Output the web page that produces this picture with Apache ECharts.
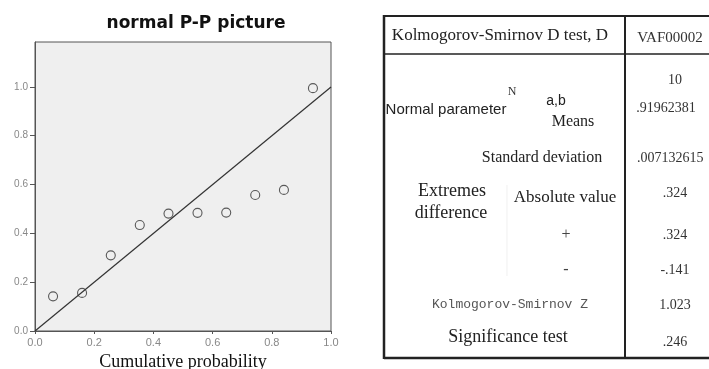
<!DOCTYPE html>
<html>
<head>
<meta charset="utf-8">
<script src="https://cdn.jsdelivr.net/npm/echarts@6/dist/echarts.min.js"></script>
<style>html,body{margin:0;padding:0;background:#fff;}#c{width:709px;height:369px;}</style>
</head>
<body>
<div id="c"></div>
<script>
// ---- data ----
var expectedCum = [0.061, 0.159, 0.256, 0.354, 0.451, 0.549, 0.646, 0.744, 0.841, 0.939];
var observedCum = [0.142, 0.156, 0.310, 0.434, 0.481, 0.484, 0.485, 0.557, 0.578, 0.995];
var refLine = [[0, 0], [1, 1]];
var axisTicks = [0, 0.2, 0.4, 0.6, 0.8, 1.0];
var chartTitle = 'normal P-P picture';
var xAxisName = 'Cumulative probability';

var tableHeader = ['Kolmogorov-Smirnov D test, D', 'VAF00002'];
var tableLabels = ['N', 'a,b', 'Normal parameter', 'Means', 'Standard deviation', 'Extremes', 'difference', 'Absolute value', '+', '-', 'Kolmogorov-Smirnov Z', 'Significance test'];
var tableValues = ['10', '.91962381', '.007132615', '.324', '.324', '-.141', '1.023', '.246'];

// ---- chart ----
var chart = echarts.init(document.getElementById('c'));
var points = expectedCum.map(function (x, i) { return [x, observedCum[i]]; });

var serif = '"Liberation Serif", "DejaVu Serif", serif';
var sans = '"Liberation Sans", Arial, sans-serif';

function txt(x, y, s, opt) {
  opt = opt || {};
  return {
    type: 'text', x: x, y: y, silent: true,
    style: {
      text: s, fill: opt.color || '#222', font: opt.font || ('15px ' + serif),
      textAlign: opt.align || 'center', textVerticalAlign: 'middle'
    }
  };
}
function ln(x1, y1, x2, y2, w, c) {
  return { type: 'line', silent: true, shape: { x1: x1, y1: y1, x2: x2, y2: y2 }, style: { stroke: c || '#222', lineWidth: w || 2 } };
}

var vx = 675;
var vFont = '14px ' + serif;
var vCol = '#333';
var graphics = [
  ln(384, 16, 709, 16, 2),
  ln(384, 54, 709, 54, 1.5),
  ln(384, 358, 709, 358, 2.5),
  ln(384, 15, 384, 359, 2.5),
  ln(625, 15, 625, 359, 2),
  ln(507, 185, 507, 276, 0.6, '#e6e6e6'),
  txt(500, 36, tableHeader[0], { font: '17px ' + serif }),
  txt(670, 38, tableHeader[1], { font: '15px ' + serif, color: '#333' }),
  txt(512, 92, tableLabels[0], { font: '12px ' + serif, color: '#333' }),
  txt(556, 101, tableLabels[1], { font: '14px ' + sans }),
  txt(446, 110, tableLabels[2], { font: '15px ' + sans }),
  txt(573, 122, tableLabels[3], { font: '16px ' + serif }),
  txt(542, 158, tableLabels[4], { font: '16px ' + serif }),
  txt(452, 191, tableLabels[5], { font: '18px ' + serif }),
  txt(451, 213, tableLabels[6], { font: '18px ' + serif }),
  txt(565, 198, tableLabels[7], { font: '17px ' + serif }),
  txt(566, 235, tableLabels[8], { font: '16px ' + serif, color: '#444' }),
  txt(566, 270, tableLabels[9], { font: '16px ' + serif, color: '#444' }),
  txt(510, 305, tableLabels[10], { font: '13px "Liberation Mono", monospace', color: '#555' }),
  txt(508, 337, tableLabels[11], { font: '18px ' + serif }),
  txt(vx, 80, tableValues[0], { font: vFont, color: vCol }),
  txt(666, 108, tableValues[1], { font: vFont, color: vCol }),
  txt(637, 158, tableValues[2], { font: vFont, color: vCol, align: 'left' }),
  txt(vx, 193, tableValues[3], { font: vFont, color: vCol }),
  txt(vx, 235, tableValues[4], { font: vFont, color: vCol }),
  txt(vx, 270, tableValues[5], { font: vFont, color: vCol }),
  txt(vx, 305, tableValues[6], { font: vFont, color: vCol }),
  txt(vx, 342, tableValues[7], { font: vFont, color: vCol })
];

chart.setOption({
  animation: false,
  backgroundColor: '#fff',
  title: {
    text: chartTitle, left: 191, top: 10, textAlign: 'center',
    textStyle: { fontFamily: '"DejaVu Sans", Verdana, sans-serif', fontWeight: 'bold', fontSize: 17, color: '#111' }
  },
  grid: {
    left: 35, right: 378, top: 42, bottom: 38,
    outerBoundsMode: 'none', containLabel: false,
    show: true, backgroundColor: '#efefef', borderColor: '#555', borderWidth: 1
  },
  xAxis: {
    type: 'value', min: 0, max: 1, interval: 0.2,
    name: xAxisName, nameLocation: 'middle', nameGap: 21,
    nameTextStyle: { fontFamily: serif, fontSize: 18, color: '#111' },
    splitLine: { show: false },
    axisLine: { show: true, onZero: false, lineStyle: { color: '#555' } },
    axisTick: { show: true, length: 3, lineStyle: { color: '#555' } },
    axisLabel: { color: '#888', fontSize: 11, fontFamily: sans, margin: 6, formatter: function (v) { return v.toFixed(1); } }
  },
  yAxis: {
    type: 'value', min: 0, max: 1.184,
    splitLine: { show: false },
    axisLine: { show: true, onZero: false, lineStyle: { color: '#555' } },
    axisTick: { show: true, length: 5, customValues: axisTicks, lineStyle: { color: '#555' } },
    axisLabel: { color: '#888', fontSize: 10, fontFamily: sans, margin: 7, customValues: axisTicks, formatter: function (v) { return v.toFixed(1); } }
  },
  series: [
    {
      type: 'line', data: refLine, symbol: 'none', silent: true,
      lineStyle: { color: '#333', width: 1.2 }, z: 2
    },
    {
      type: 'scatter', data: points, symbol: 'circle', symbolSize: 9,
      itemStyle: { color: 'rgba(0,0,0,0)', borderColor: '#333', borderWidth: 1.1 }, z: 3
    }
  ],
  graphic: graphics
});
</script>
</body>
</html>
